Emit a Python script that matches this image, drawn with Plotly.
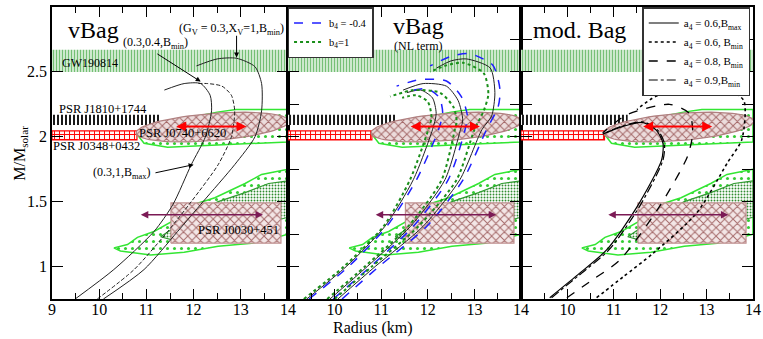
"""
Mass-radius curves for the vBag / vBag (NL term) / mod. Bag models,
drawn on top of the usual pulsar and GW mass constraints.
"""

import numpy as np
import plotly.graph_objects as go

FONT = "Liberation Serif"

# ---- axis ranges and ticks ----
R_RANGE = [9, 14]
M_RANGE = [0.75, 3]
y_labels = [1, 1.5, 2, 2.5, 3]
y_quarter = [1, 1.25, 1.5, 1.75, 2, 2.25, 2.5, 2.75, 3]

# ---- observational constraints (same in every panel) ----
gw_band_m = [2.50, 2.67]
j1810_band_m = [2.09, 2.17]
j1810_band_r = [9, 11.3]
j0348_band_m = [1.975, 2.045]
j0348_band_r = [9, 10.8]

# PSR J0740+6620 ellipse: centre R, centre M, half width (km), half height, tilt
j0740_ellipse = [12.4, 2.075, 1.62, 0.105, 0.028]
j0740_arrow_r = [11.6, 13.12]
j0740_arrow_m = 2.08
j0740_contour_r = [10.8, 10.95, 11.45, 12.9, 14.0, 14.0, 12.9, 12.5, 11.8, 11.2, 10.8]
j0740_contour_m = [2.02, 1.95, 1.92, 1.94, 1.96, 2.21, 2.21, 2.19, 2.14, 2.08, 2.02]

j0030_box_r = [11.52, 13.85]
j0030_box_m = [1.18, 1.49]
j0030_arrow_r = [10.85, 13.47]
j0030_arrow_m = 1.40
j0030_outer_r = [10.31, 10.6, 10.81, 11.16, 11.6, 12.02, 12.45, 12.73, 13.09, 13.44, 13.87, 14.0,
                 14.0, 13.5, 13.23, 12.52, 11.8, 11.09, 10.45, 10.31]
j0030_outer_m = [1.144, 1.17, 1.225, 1.27, 1.36, 1.48, 1.53, 1.58, 1.64, 1.71, 1.74, 1.75,
                 1.25, 1.2, 1.18, 1.156, 1.11, 1.09, 1.12, 1.144]
j0030_inner_r = [11.3, 11.6, 12.0, 12.52, 13.09, 13.59, 14.0, 14.0, 13.5, 12.5, 11.6, 11.3]
j0030_inner_m = [1.23, 1.3, 1.4, 1.50, 1.57, 1.64, 1.66, 1.38, 1.33, 1.25, 1.2, 1.23]

# ---- panel 1: vBag ----
vbag_bmax_r = [9.49, 10.31, 11.16, 11.56, 11.95, 12.25, 12.38, 12.35, 12.15, 11.8, 11.38]
vbag_bmax_m = [0.75, 0.977, 1.27, 1.477, 1.785, 2.0, 2.2, 2.32, 2.41, 2.41, 2.36]
vbag_x04_r = [9.96, 10.74, 11.45, 11.95, 12.52, 12.8, 12.87, 12.8, 12.6, 12.3, 12.06]
vbag_x04_m = [0.75, 0.977, 1.27, 1.5, 1.785, 2.0, 2.2, 2.32, 2.39, 2.41, 2.41]
vbag_x1_r = [10.09, 10.95, 11.66, 12.2, 12.87, 13.3, 13.44, 13.44, 13.3, 12.91, 12.5, 12.06]
vbag_x1_m = [0.75, 0.977, 1.27, 1.5, 1.785, 2.0, 2.2, 2.41, 2.54, 2.605, 2.6, 2.546]

# ---- panel 2: vBag with NL term (black b4=0, blue b4=-0.4, green b4=1) ----
g1_black_r = [9.4, 10.25, 11.08, 11.69, 12.1, 12.18, 12.1, 11.85, 11.55]
g1_black_m = [0.75, 1.0, 1.31, 1.67, 2.054, 2.18, 2.3, 2.36, 2.34]
g1_blue_r = [9.45, 10.3, 11.12, 11.76, 12.23, 12.32, 12.25, 12.0, 11.7]
g1_blue_m = [0.75, 1.0, 1.31, 1.67, 2.054, 2.18, 2.3, 2.37, 2.36]
g1_green_r = [9.34, 10.2, 11.05, 11.62, 12.01, 12.08, 12.0, 11.75, 11.45]
g1_green_m = [0.75, 1.0, 1.31, 1.67, 2.054, 2.15, 2.27, 2.32, 2.3]
g2_black_r = [9.9, 10.7, 11.63, 12.37, 12.7, 12.75, 12.65, 12.4, 11.9, 11.47]
g2_black_m = [0.75, 1.0, 1.31, 1.67, 2.054, 2.13, 2.28, 2.39, 2.41, 2.36]
g2_blue_r = [9.97, 10.77, 11.69, 12.44, 12.8, 12.85, 12.72, 12.4, 11.83, 11.33]
g2_blue_m = [0.75, 1.0, 1.31, 1.67, 2.054, 2.16, 2.31, 2.43, 2.44, 2.39]
g2_green_r = [9.84, 10.65, 11.58, 12.3, 12.58, 12.62, 12.55, 12.26, 11.69, 11.19]
g2_green_m = [0.75, 1.0, 1.31, 1.67, 2.054, 2.12, 2.23, 2.34, 2.36, 2.31]
g3_black_r = [10.07, 10.87, 11.9, 12.69, 13.16, 13.37, 13.44, 13.34, 12.83, 12.5, 12.19]
g3_black_m = [0.75, 1.0, 1.31, 1.67, 2.054, 2.16, 2.34, 2.53, 2.6, 2.585, 2.53]
g3_blue_r = [10.16, 10.95, 11.98, 12.76, 13.26, 13.51, 13.55, 13.4, 12.9, 12.5, 12.05]
g3_blue_m = [0.75, 1.0, 1.31, 1.67, 2.054, 2.23, 2.36, 2.55, 2.64, 2.62, 2.546]
g3_green_r = [10.0, 10.8, 11.8, 12.62, 13.0, 13.2, 13.3, 13.2, 12.76, 12.4, 12.05]
g3_green_m = [0.75, 1.0, 1.31, 1.67, 2.054, 2.2, 2.33, 2.49, 2.57, 2.55, 2.5]

# ---- panel 3: mod. Bag ----
mod_a06_bmax_r = [9.62, 10.2, 10.85, 11.5, 12.03, 12.06, 11.92, 11.62, 11.2, 10.76]
mod_a06_bmax_m = [0.76, 0.93, 1.13, 1.46, 1.82, 1.95, 2.05, 2.11, 2.08, 2.02]
mod_a06_bmin_r = [10.63, 11.2, 11.84, 12.78, 13.45, 13.76, 13.8, 13.34, 12.7, 11.9, 11.5]
mod_a06_bmin_m = [0.76, 0.92, 1.1, 1.41, 1.8, 1.98, 2.28, 2.38, 2.37, 2.31, 2.21]
mod_a08_bmin_r = [9.99, 10.55, 11.13, 11.98, 12.59, 12.7, 12.63, 12.2, 11.28, 10.76]
mod_a08_bmin_m = [0.76, 0.9, 1.05, 1.46, 1.85, 2.03, 2.18, 2.25, 2.17, 2.03]
mod_a09_bmin_r = [9.66, 10.24, 10.9, 11.55, 12.06, 12.09, 11.95, 11.64, 11.2, 10.78]
mod_a09_bmin_m = [0.76, 0.93, 1.13, 1.46, 1.82, 1.95, 2.05, 2.115, 2.085, 2.025]

# panel edges in paper coordinates
domains = [[0, 0.3367], [0.3367, 0.669], [0.669, 1]]
suffix = ["", "2", "3"]


def box(r, m):
    return [r[0], r[1], r[1], r[0], r[0]], [m[0], m[0], m[1], m[1], m[0]]


def region(fig, xs, ys, n, line_color, pattern, width=1.2):
    fig.add_trace(go.Scatter(
        x=xs, y=ys, mode="lines", fill="toself", xaxis="x" + n, yaxis="y" + n,
        line=dict(color=line_color, width=width), fillcolor="rgba(0,0,0,0)",
        fillpattern=pattern, hoverinfo="skip", showlegend=False))


def add_background(fig, n):
    # GW190814
    xs, ys = box(R_RANGE, gw_band_m)
    region(fig, xs, ys, n, "rgba(0,0,0,0)",
           dict(shape="|", fgcolor="#74bf74", bgcolor="#d8eed8", size=3, solidity=0.4), 0)
    # PSR J1810+1744
    xs, ys = box(j1810_band_r, j1810_band_m)
    region(fig, xs, ys, n, "rgba(0,0,0,0)",
           dict(shape="|", fgcolor="black", bgcolor="white", size=4, solidity=0.45), 0)
    # PSR J0348+0432
    xs, ys = box(j0348_band_r, j0348_band_m)
    region(fig, xs, ys, n, "red",
           dict(shape="+", fgcolor="red", bgcolor="#fff4f4", size=5, solidity=0.35), 1.2)
    # PSR J0740+6620 NICER contour and ellipse
    region(fig, j0740_contour_r, j0740_contour_m, n, "#33e633",
           dict(shape=".", fgcolor="#33cc33", bgcolor="white", size=7, solidity=0.15), 1.5)
    rc, mc, a, b, tilt = j0740_ellipse
    t = np.linspace(0, 2 * np.pi, 90)
    er = rc + a * np.cos(t)
    em = mc + tilt * a * np.cos(t) + b * np.sin(t)
    region(fig, er, em, n, "#b08080",
           dict(shape="x", fgcolor="#a56a6a", bgcolor="#ecdcdc", size=6, solidity=0.3), 1.2)
    # PSR J0030+451 NICER contours and box
    region(fig, j0030_outer_r, j0030_outer_m, n, "#33e633",
           dict(shape=".", fgcolor="#33cc33", bgcolor="white", size=7, solidity=0.15), 1.5)
    region(fig, j0030_inner_r, j0030_inner_m, n, "#2e9a2e",
           dict(shape=".", fgcolor="#2e8b2e", bgcolor="white", size=3, solidity=0.3), 1.2)
    xs, ys = box(j0030_box_r, j0030_box_m)
    region(fig, xs, ys, n, "#c09090",
           dict(shape="x", fgcolor="#a56a6a", bgcolor="#f3e6e6", size=6, solidity=0.3), 1.2)


def curve(fig, r, m, n, color, dash, width, name=None, legend=None):
    fig.add_trace(go.Scatter(
        x=r, y=m, mode="lines", xaxis="x" + n, yaxis="y" + n,
        line=dict(color=color, dash=dash, width=width, shape="spline", smoothing=0.7),
        name=name, showlegend=name is not None, legend=legend, hoverinfo="skip"))


fig = go.Figure()
for n in suffix:
    add_background(fig, n)

# panel 1
curve(fig, vbag_bmax_r, vbag_bmax_m, "", "#222", "solid", 1)
curve(fig, vbag_x04_r, vbag_x04_m, "", "#222", "4px,2px", 1)
curve(fig, vbag_x1_r, vbag_x1_m, "", "#222", "solid", 1)

# panel 2
BLUE, GREEN = "#1f1fff", "#1a8f1a"
curve(fig, g1_black_r, g1_black_m, "2", "#222", "solid", 1)
curve(fig, g2_black_r, g2_black_m, "2", "#222", "solid", 1)
curve(fig, g3_black_r, g3_black_m, "2", "#222", "solid", 1)
curve(fig, g1_blue_r, g1_blue_m, "2", BLUE, "dash", 1.5, "b<sub>4</sub> = -0.4", "legend")
curve(fig, g2_blue_r, g2_blue_m, "2", BLUE, "dash", 1.5)
curve(fig, g3_blue_r, g3_blue_m, "2", BLUE, "dash", 1.5)
curve(fig, g1_green_r, g1_green_m, "2", GREEN, "dot", 2, "b<sub>4</sub>=1", "legend")
curve(fig, g2_green_r, g2_green_m, "2", GREEN, "dot", 2)
curve(fig, g3_green_r, g3_green_m, "2", GREEN, "dot", 2)

# panel 3
curve(fig, mod_a06_bmax_r, mod_a06_bmax_m, "3", "black", "solid", 1.2,
      "a<sub>4</sub> = 0.6,B<sub>max</sub>", "legend2")
curve(fig, mod_a06_bmin_r, mod_a06_bmin_m, "3", "black", "dot", 1.6,
      "a<sub>4</sub> = 0.6, B<sub>min</sub>", "legend2")
curve(fig, mod_a08_bmin_r, mod_a08_bmin_m, "3", "black", "dash", 1.3,
      "a<sub>4</sub> = 0.8, B<sub>min</sub>", "legend2")
curve(fig, mod_a09_bmin_r, mod_a09_bmin_m, "3", "black", "dashdot", 1.2,
      "a<sub>4</sub> = 0.9,B<sub>min</sub>", "legend2")

annotations = []


def text(n, x, y, s, size=12):
    annotations.append(dict(xref="x" + n, yref="y" + n, x=x, y=y, text=s, showarrow=False,
                            font=dict(family=FONT, size=size, color="black")))


def arrow(n, tail, head, color, width=1, both=False):
    annotations.append(dict(xref="x" + n, yref="y" + n, axref="x" + n, ayref="y" + n,
                            x=head[0], y=head[1], ax=tail[0], ay=tail[1], text="",
                            showarrow=True, arrowhead=2, arrowsize=1, arrowwidth=width,
                            arrowcolor=color, arrowside="end+start" if both else "end",
                            standoff=0, startstandoff=0))


for n in suffix:
    arrow(n, (j0740_arrow_r[0], j0740_arrow_m), (j0740_arrow_r[1], j0740_arrow_m), "red", 2, True)
    arrow(n, (j0030_arrow_r[0], j0030_arrow_m), (j0030_arrow_r[1], j0030_arrow_m), "#7b1a55", 1.5, True)

# panel 1 labels
text("", 9.88, 2.82, "vBag", 24)
text("", 9.81, 2.57, "GW190814", 12)
text("", 10.07, 2.215, "PSR J1810+1744", 12.5)
text("", 9.94, 1.93, "PSR J0348+0432", 12.5)
text("", 11.76, 2.03, "PSR J0740+6620", 12.5)
text("", 12.95, 1.285, "PSR J0030+451", 12.5)
text("", 12.8, 2.83, "(G<sub>V</sub> = 0.3,X<sub>V</sub>=1,B<sub>min</sub>)", 12)
arrow("", (12.91, 2.79), (12.91, 2.61), "black", 1)
text("", 11.2, 2.72, "(0.3,0.4,B<sub>min</sub>)", 12)
arrow("", (11.2, 2.646), (12.15, 2.425), "black", 1)
text("", 10.48, 1.72, "(0.3,1,B<sub>max</sub>)", 12)
arrow("", (11.16, 1.72), (12.0, 1.785), "black", 1)

# panel 2 / 3 titles
text("2", 11.81, 2.85, "vBag", 24)
text("2", 11.79, 2.70, "(NL term)", 12)
text("3", 10.27, 2.82, "mod. Bag", 24)

annotations.append(dict(xref="paper", yref="paper", x=0.458, y=-0.1, text="Radius (km)",
                        xanchor="center", yanchor="middle", showarrow=False,
                        font=dict(family=FONT, size=16, color="black")))
annotations.append(dict(xref="paper", yref="paper", x=-0.046, y=0.5, text="M/M<sub>solar</sub>",
                        xanchor="center", yanchor="middle", textangle=-90, showarrow=False,
                        font=dict(family=FONT, size=16, color="black")))

layout = dict(
    template="none",
    width=763, height=339, margin=dict(l=52, r=10, t=7, b=40, autoexpand=False),
    plot_bgcolor="white", paper_bgcolor="white",
    font=dict(family=FONT, size=15, color="black"),
    annotations=annotations,
    legend=dict(x=0.336, y=1.0, xanchor="left", yanchor="top", bgcolor="white",
                bordercolor="#333", borderwidth=1.5, font=dict(family=FONT, size=10.5),
                tracegroupgap=0, itemwidth=30),
    legend2=dict(x=0.842, y=1.0, xanchor="left", yanchor="top", bgcolor="white",
                 bordercolor="#333", borderwidth=1.5, font=dict(family=FONT, size=11),
                 tracegroupgap=0, itemwidth=30),
)

for i, n in enumerate(suffix):
    layout["xaxis" + n] = dict(
        domain=domains[i], range=R_RANGE, anchor="y" + n, automargin=False,
        tickvals=[9, 10, 11, 12, 13, 14] if i == 0 else [10, 11, 12, 13, 14],
        ticks="inside", ticklen=10, tickwidth=1.2, tickcolor="black", ticklabelstandoff=-5,
        minor=dict(tickvals=[9.5, 10.5, 11.5, 12.5, 13.5], ticks="inside", ticklen=6,
                   tickcolor="black", tickwidth=1.2),
        showline=True, linecolor="black", linewidth=1.8, mirror="ticks",
        showgrid=False, zeroline=False, tickfont=dict(family=FONT, size=16))
    layout["yaxis" + n] = dict(
        domain=[0, 1], range=M_RANGE, anchor="x" + n, automargin=False,
        tickvals=y_labels if i == 0 else y_quarter, showticklabels=i == 0,
        ticks="inside", ticklen=11, tickwidth=1.2, tickcolor="black",
        showline=True, linecolor="black", linewidth=1.8, mirror="ticks",
        showgrid=False, zeroline=False, tickfont=dict(family=FONT, size=16))

fig.update_layout(**layout)
# the page body keeps the browser's default 8px margin otherwise
fig.write_html("out.html", config={"displayModeBar": False},
               post_script="document.body.style.margin = '0px';")
